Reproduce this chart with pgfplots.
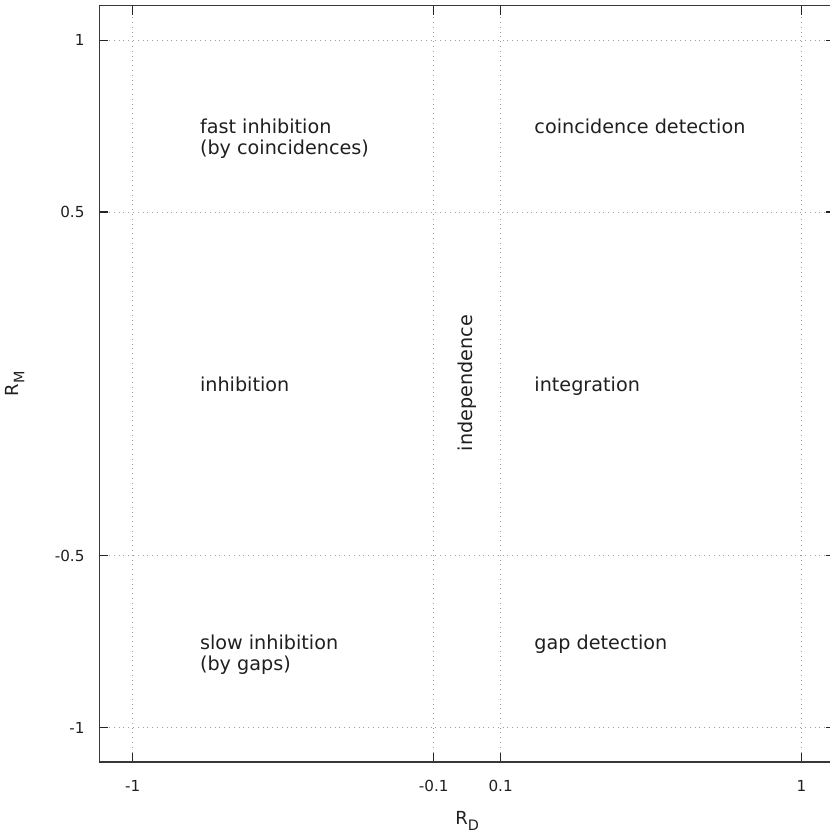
\documentclass[border=0pt]{standalone}
\usepackage{fontspec}
\setmainfont{DejaVu Sans}
\usepackage{pgfplots}
\pgfplotsset{compat=1.18}
\newcommand{\sub}[1]{\raisebox{-3pt}{\fontsize{7.2}{8}\selectfont #1}}
\begin{document}
\begin{tikzpicture}
\begin{axis}[
  at={(0,0)}, anchor=south west,
  scale only axis,
  width=367.85pt, height=378.1pt,
  xmin=-1.1, xmax=1.1, ymin=-1.1, ymax=1.1,
  xtick={-1,-0.1,0.1,1}, xticklabels={-1,-0.1,0.1,1},
  ytick={-1,-0.5,0.5,1}, yticklabels={-1,-0.5,0.5,1},
  grid=major,
  major grid style={dotted, line width=0.5pt, gray!75},
  axis line style={line width=0.6pt, black!78},
  major tick style={line width=0.6pt, black!85},
  major tick length=4.5pt,
  tick align=inside,
  tick pos=both,
  tick label style={font=\fontsize{7.6}{9}\selectfont, text=black!88, inner sep=0pt},
  xticklabel style={anchor=base, yshift=-14.7pt},
  yticklabel style={anchor=east, xshift=-7.2pt},
  xlabel={R\sub{D}},
  ylabel={R\sub{M}},
  label style={font=\fontsize{9}{11}\selectfont, text=black!88, inner sep=0pt},
  xlabel style={at={(axis description cs:0.5,-0.0833)}, anchor=base},
  ylabel style={at={(axis description cs:-0.1101,0.5)}, anchor=base, rotate=0},
  clip=false,
]
\begin{scope}[every node/.style={font=\fontsize{9.6}{11.5}\selectfont, text=black!88, inner sep=0pt}]
\node[anchor=base west] at (axis cs:-0.8,0.7294) {fast inhibition};
\node[anchor=base west] at (axis cs:-0.8,0.6683) {(by coincidences)};
\node[anchor=base west] at (axis cs:0.2,0.7294) {coincidence detection};
\node[anchor=base west] at (axis cs:-0.8,-0.022) {inhibition};
\node[anchor=base west] at (axis cs:0.2,-0.022) {integration};
\node[anchor=base west] at (axis cs:-0.8,-0.774) {slow inhibition};
\node[anchor=base west] at (axis cs:-0.8,-0.835) {(by gaps)};
\node[anchor=base west] at (axis cs:0.2,-0.774) {gap detection};
\node[anchor=base, rotate=90] at (axis cs:0.0168,0.002) {independence};
\end{scope}
\end{axis}
\pgfresetboundingbox
\useasboundingbox (-49.65pt,-35.5pt) rectangle (364.85pt,381pt);
\end{tikzpicture}
\end{document}
